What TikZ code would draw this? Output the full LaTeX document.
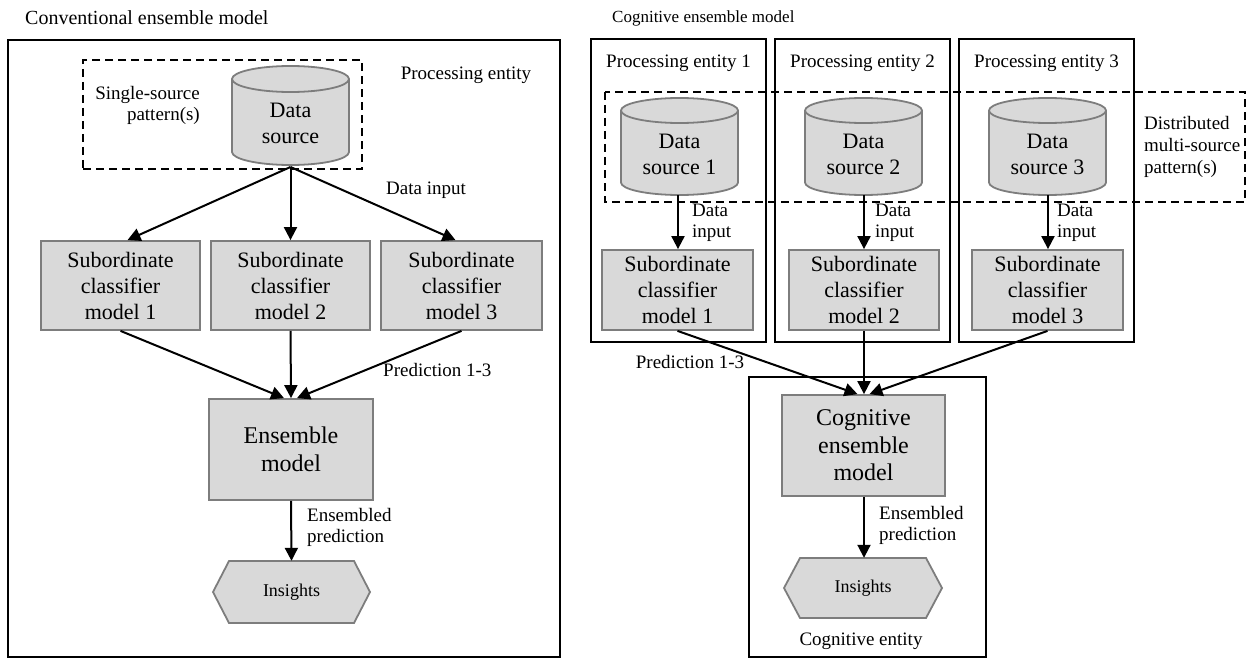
\documentclass[tikz,border=0pt]{standalone}
\usepackage{fontspec}
\setmainfont{Liberation Serif}
\newfontfamily\tnr{Liberation Serif}
\usetikzlibrary{arrows.meta,calc}
\definecolor{fillgray}{RGB}{217,217,217}
\definecolor{edgegray}{RGB}{125,125,125}
\newcommand{\mycyl}[5]{% cx, top, bottom, rx, ry
  \draw[cylstyle] ({#1-#4},{#2+#5}) -- ({#1-#4},{#3-#5})
    arc[start angle=180,end angle=0,x radius=#4,y radius=#5]
    -- ({#1+#4},{#2+#5})
    arc[start angle=0,end angle=-180,x radius=#4,y radius=#5] -- cycle;
  \draw[cylstyle,fill=none] ({#1-#4},{#2+#5})
    arc[start angle=180,end angle=0,x radius=#4,y radius=#5];
}
\newcommand{\myhex}[5]{% x1, x2, y1, y2, indent
  \draw[cylstyle] (#1,{(#3+#4)/2}) -- ({#1+#5},#3) -- ({#2-#5},#3) -- (#2,{(#3+#4)/2})
    -- ({#2-#5},#4) -- ({#1+#5},#4) -- cycle;
}
\begin{document}
\begin{tikzpicture}[x=1pt,y=-1pt,
  cylstyle/.style={draw=edgegray,fill=fillgray,line width=1.8pt},
  gbox/.style={draw=edgegray,fill=fillgray,line width=1.8pt,inner sep=0pt,align=center,
    font=\tnr\fontsize{22}{26}\selectfont},
  bigbox/.style={gbox,font=\tnr\fontsize{24}{27.5}\selectfont},
  frame/.style={draw=black,line width=2pt,inner sep=0pt},
  dashbox/.style={draw=black,line width=2pt,dash pattern=on 8pt off 5pt},
  cyltext/.style={inner sep=0pt,align=center,font=\tnr\fontsize{22}{25.5}\selectfont},
  lbl/.style={inner sep=0pt,font=\tnr\fontsize{19}{21}\selectfont},
  ttl/.style={inner sep=0pt,font=\tnr\fontsize{20}{22}\selectfont},
  instext/.style={inner sep=0pt,font=\tnr\fontsize{18}{21}\selectfont},
  arr/.style={-{Triangle[length=13pt,width=13pt]},line width=2pt,black}
]
\useasboundingbox (0,0) rectangle (1247,658);

% ================= LEFT =================
\node[ttl,anchor=west] (t1) at (25,18) {Conventional ensemble model};
\node[frame,minimum width=552pt,minimum height=616pt] (outerL) at (284,348.5) {};
\node[lbl] (peL) at (466,75) {Processing entity};
\node[dashbox,minimum width=279pt,minimum height=109pt] (dashL) at (222.5,114.5) {};
\node[lbl,align=right,anchor=east] (ssp) at (200,105) {Single-source\\pattern(s)};
\mycyl{290.5}{66}{165}{58.5}{13}
\node[cyltext] (dsL) at (290.5,123.5) {Data\\source};
\coordinate (cylL) at (290.5,167);

\node[gbox,minimum width=159pt,minimum height=89pt] (b1) at (120.5,285.5) {Subordinate\\classifier\\model 1};
\node[gbox,minimum width=159pt,minimum height=89pt] (b2) at (290.5,285.5) {Subordinate\\classifier\\model 2};
\node[gbox,minimum width=161pt,minimum height=89pt] (b3) at (461.5,285.5) {Subordinate\\classifier\\model 3};
\node[lbl,anchor=west] (diL) at (386,190) {Data input};

\draw[arr] (cylL) -- ([xshift=7pt]b1.north);
\draw[arr] (cylL) -- (b2.north);
\draw[arr] (cylL) -- ([xshift=-6pt]b3.north);

\node[bigbox,minimum width=164pt,minimum height=101pt] (ens) at (291,449.5) {Ensemble\\model};
\draw[arr] (b1.south) -- ([xshift=-7pt]ens.north);
\draw[arr] (b2.south) -- (ens.north);
\draw[arr] (b3.south) -- ([xshift=6pt]ens.north);
\node[lbl,anchor=west] (prL) at (383,370) {Prediction 1-3};

\myhex{213}{370}{561}{623}{16}
\node[instext,minimum width=157pt,minimum height=62pt] (insL) at (291.5,592) {Insights};
\draw[arr] (ens.south) -- (insL.north);
\node[lbl,anchor=west,align=left] (epL) at (307,527) {Ensembled\\prediction};

% ================= RIGHT =================
\node[ttl,anchor=west,font=\tnr\fontsize{17}{20}\selectfont] (t2) at (612,18) {Cognitive ensemble model};
\node[frame,minimum width=175pt,minimum height=303pt] (pe1) at (678.5,190.5) {};
\node[frame,minimum width=175pt,minimum height=303pt] (pe2) at (862.5,190.5) {};
\node[frame,minimum width=175pt,minimum height=303pt] (pe3) at (1046.5,190.5) {};
\node[lbl] (pl1) at (678.5,63) {Processing entity 1};
\node[lbl] (pl2) at (862.5,63) {Processing entity 2};
\node[lbl] (pl3) at (1046.5,63) {Processing entity 3};

\draw[dashbox] (605,92) rectangle (1245,202);
\node[lbl,anchor=west,align=left,font=\tnr\fontsize{19}{22}\selectfont] (dmp) at (1144,147) {Distributed\\multi-source\\pattern(s)};

\mycyl{679.5}{98}{195}{58.5}{12.5}
\mycyl{863.5}{98}{195}{58.5}{12.5}
\mycyl{1047.5}{98}{195}{58.5}{12.5}
\node[cyltext,font=\tnr\fontsize{22}{26}\selectfont] (ds1) at (679.5,154) {Data\\source 1};
\node[cyltext,font=\tnr\fontsize{22}{26}\selectfont] (ds2) at (863.5,154) {Data\\source 2};
\node[cyltext,font=\tnr\fontsize{22}{26}\selectfont] (ds3) at (1047.5,154) {Data\\source 3};
\coordinate (c1) at (678,195);
\coordinate (c2) at (864,195);
\coordinate (c3) at (1048,195);

\node[gbox,minimum width=151pt,minimum height=80pt] (r1) at (677.5,290) {Subordinate\\classifier\\model 1};
\node[gbox,minimum width=150pt,minimum height=80pt] (r2) at (864,290) {Subordinate\\classifier\\model 2};
\node[gbox,minimum width=151pt,minimum height=80pt] (r3) at (1047.5,290) {Subordinate\\classifier\\model 3};
\draw[arr] (c1) -- (c1 |- r1.north);
\draw[arr] (c2) -- (c2 |- r2.north);
\draw[arr] (c3) -- (c3 |- r3.north);
\node[lbl,anchor=west,align=left] (di1) at (692,222.5) {Data\\input};
\node[lbl,anchor=west,align=left] (di2) at (875,222.5) {Data\\input};
\node[lbl,anchor=west,align=left] (di3) at (1057,222.5) {Data\\input};

\node[frame,minimum width=237pt,minimum height=280pt] (cog) at (867.5,517) {};
\node[bigbox,minimum width=163pt,minimum height=101pt] (cens) at (863.5,445.5) {Cognitive\\ensemble\\model};
\draw[arr] (r1.south) -- ([xshift=-6pt]cens.north);
\draw[arr] (r2.south) -- (r2.south |- cens.north);
\draw[arr] (r3.south) -- ([xshift=6pt]cens.north);
\node[lbl] (prR) at (690,362) {Prediction 1-3};

\myhex{784}{942}{558}{618}{16}
\node[instext,minimum width=158pt,minimum height=60pt] (insR) at (863,588) {Insights};
\draw[arr] (cens.south -| r2.south) -- (r2.south |- insR.north);
\node[lbl,anchor=west,align=left] (epR) at (879,525.5) {Ensembled\\prediction};
\node[lbl] (ce) at (861,641) {Cognitive entity};
\end{tikzpicture}
\end{document}
